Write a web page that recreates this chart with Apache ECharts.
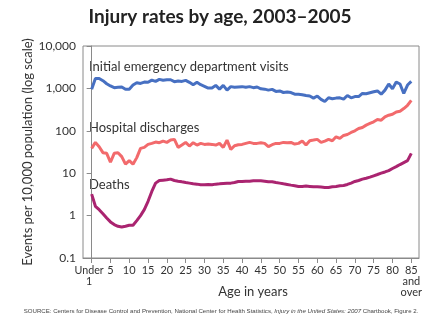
<!DOCTYPE html>
<html>
<head>
<meta charset="utf-8">
<script src="https://cdn.jsdelivr.net/npm/echarts@6/dist/echarts.min.js"></script>
<style>
  html, body { margin: 0; padding: 0; background: #fff; }
  #chart { width: 440px; height: 330px; }
</style>
</head>
<body>
<div id="chart"></div>
<script>
// Single years of age, 0 ("Under 1") through 85 ("85 and over")
var ages = [0,1,2,3,4,5,6,7,8,9,10,11,12,13,14,15,16,17,18,19,20,21,22,23,24,25,26,27,28,29,
  30,31,32,33,34,35,36,37,38,39,40,41,42,43,44,45,46,47,48,49,50,51,52,53,54,55,56,57,58,59,
  60,61,62,63,64,65,66,67,68,69,70,71,72,73,74,75,76,77,78,79,80,81,82,83,84,85];

// Events per 10,000 population
var edVisits = [950,1720,1720,1520,1290,1140,1040,1060,1080,950,960,1200,1360,1310,1410,1390,1570,1460,1630,1550,
  1600,1600,1440,1490,1460,1550,1390,1220,1390,1220,1120,1020,1020,1180,960,1180,910,1100,1060,1080,
  1100,1060,1100,1040,1080,980,960,910,950,850,870,800,820,800,730,730,710,680,660,590,
  660,550,490,600,570,590,600,560,680,600,640,640,760,750,790,830,870,730,910,1270,
  980,1410,1270,760,1200,1460];

var hospitalDischarges = [38.5,53.3,42.2,30.5,29.4,18.1,29.4,30.5,24.6,16.3,19.8,16.3,23.3,38.5,40.7,47.8,50.5,54.3,52.3,57.3,
  53.3,60.4,62.7,40.7,46.1,53.3,43.7,52.3,46.1,50.5,47.8,48.7,47.8,46.1,50.5,40.7,60.4,36.5,44.5,47.0,
  47.8,50.5,53.3,50.5,50.5,52.3,50.5,42.2,47.0,50.5,50.5,53.3,52.3,53.3,48.7,50.5,57.3,46.1,58.3,60.4,
  62.7,53.3,57.3,62.7,58.3,72.3,66.1,77.7,82.0,91.4,100,113,120,136,149,163,184,178,213,233,
  246,279,289,334,400,523];

var deaths = [3.22,1.66,1.38,1.11,0.88,0.71,0.615,0.56,0.54,0.56,0.59,0.59,0.76,1.0,1.38,2.17,3.72,5.83,6.73,6.86,
  6.98,7.24,6.73,6.49,6.26,6.04,5.83,5.62,5.52,5.33,5.33,5.43,5.33,5.52,5.62,5.73,5.83,5.83,6.04,6.38,
  6.38,6.49,6.49,6.61,6.61,6.61,6.49,6.26,6.26,6.04,5.83,5.62,5.43,5.23,5.05,4.87,4.87,4.96,4.87,4.78,
  4.78,4.70,4.61,4.61,4.78,4.87,5.05,5.14,5.43,5.83,6.38,6.73,7.24,7.63,8.06,8.66,9.30,10.0,10.7,11.5,
  12.9,14.3,16.0,17.8,19.8,29.4];

var xTicks = [0,5,10,15,20,25,30,35,40,45,50,55,60,65,70,75,80,85];
var xNumberLabels = [5,10,15,20,25,30,35,40,45,50,55,60,65,70,75,80,85];
var xFirstLabel = [0];

function pairs(values) {
  return ages.map(function (a, i) { return [a, values[i]]; });
}

var FONT = 'Lato, "Noto Sans", sans-serif';
var TEXT = '#333333';
var FRAME = '#8a8a8a';
var AGE_MIN = -2.3;
var AGE_MAX = 87.05;

var chart = echarts.init(document.getElementById('chart'), null, { renderer: 'canvas' });

chart.setOption({
  backgroundColor: '#ffffff',
  animation: false,
  textStyle: { fontFamily: FONT },
  title: {
    text: 'Injury rates by age, 2003\u20132005',
    left: 'center',
    top: 2,
    textStyle: { fontFamily: FONT, fontSize: 19, fontWeight: 'bold', color: '#222222' }
  },
  grid: {
    left: 83, right: 21, top: 46, bottom: 72,
    show: true, borderColor: FRAME, borderWidth: 1, backgroundColor: 'transparent'
  },
  xAxis: [
    {
      type: 'value',
      position: 'bottom',
      min: AGE_MIN,
      max: AGE_MAX,
      axisLine: { show: true, lineStyle: { color: FRAME } },
      axisTick: { show: true, length: 5, inside: false, customValues: xTicks, lineStyle: { color: FRAME } },
      splitLine: { show: false },
      axisLabel: {
        customValues: xNumberLabels,
        showMinLabel: true,
        showMaxLabel: true,
        hideOverlap: false,
        margin: 7,
        fontSize: 11,
        lineHeight: 11,
        color: TEXT,
        fontFamily: FONT,
        formatter: function (v) {
          if (v === 85) return '85\nand\nover';
          return String(v);
        }
      }
    },
    {
      // carries only the "Under 1" label, nudged left of its tick
      type: 'value',
      position: 'bottom',
      min: AGE_MIN,
      max: AGE_MAX,
      axisLine: { show: false },
      axisTick: { show: false },
      splitLine: { show: false },
      axisLabel: {
        customValues: xFirstLabel,
        showMinLabel: true,
        margin: 7,
        fontSize: 11,
        lineHeight: 11,
        color: TEXT,
        fontFamily: FONT,
        rich: {
          u: { fontFamily: FONT, fontSize: 10.7, lineHeight: 11, color: TEXT, padding: [0, 5, 0, 0] }
        },
        formatter: function () { return '{u|Under}\n{u|1}'; }
      }
    }
  ],
  yAxis: {
    type: 'log',
    logBase: 10,
    min: 0.1,
    max: 10000,
    name: 'Events per 10,000 population (log scale)',
    nameLocation: 'middle',
    nameGap: 49,
    nameMoveOverlap: false,
    nameRotate: 90,
    nameTextStyle: { fontFamily: FONT, fontSize: 13, color: TEXT },
    axisLine: { show: true, lineStyle: { color: FRAME } },
    axisTick: { show: true, length: 5, inside: false, lineStyle: { color: FRAME } },
    splitLine: { show: false },
    axisLabel: {
      margin: 7,
      fontSize: 12,
      color: TEXT,
      fontFamily: FONT,
      formatter: function (v) {
        var r = Math.round(v * 10) / 10;
        return r < 1 ? String(r) : r.toLocaleString('en-US');
      }
    }
  },
  series: [
    {
      name: 'Initial emergency department visits',
      type: 'line',
      xAxisIndex: 0,
      data: pairs(edVisits),
      showSymbol: false,
      lineStyle: { color: '#4770c2', width: 3 },
      itemStyle: { color: '#4770c2' }
    },
    {
      name: 'Hospital discharges',
      type: 'line',
      xAxisIndex: 0,
      data: pairs(hospitalDischarges),
      showSymbol: false,
      lineStyle: { color: '#f26a6c', width: 3 },
      itemStyle: { color: '#f26a6c' }
    },
    {
      name: 'Deaths',
      type: 'line',
      xAxisIndex: 0,
      data: pairs(deaths),
      showSymbol: false,
      lineStyle: { color: '#aa2470', width: 3 },
      itemStyle: { color: '#aa2470' }
    }
  ],
  graphic: [
    { type: 'text', left: 89, top: 60, style: { text: 'Initial emergency department visits', font: '13px ' + FONT, fill: TEXT } },
    { type: 'text', left: 89, top: 121, style: { text: 'Hospital discharges', font: '13px ' + FONT, fill: TEXT } },
    { type: 'text', left: 89, top: 178, style: { text: 'Deaths', font: '13px ' + FONT, fill: TEXT } },
    // x-axis title
    { type: 'text', x: 253, y: 292, style: { text: 'Age in years', font: '13px ' + FONT, fill: TEXT, align: 'center', verticalAlign: 'middle' } },
    {
      type: 'text', x: 221, y: 311,
      style: {
        align: 'center',
        verticalAlign: 'middle',
        rich: {
          n: { fontFamily: '"Liberation Sans", Arial, sans-serif', fontSize: 6.1, fill: '#444' },
          i: { fontFamily: '"Liberation Sans", Arial, sans-serif', fontSize: 6.1, fontStyle: 'italic', fill: '#444' }
        },
        text: '{n|SOURCE: Centers for Disease Control and Prevention, National Center for Health Statistics, }{i|Injury in the United States: 2007}{n| Chartbook, Figure 2.}'
      }
    }
  ]
});
</script>
</body>
</html>
